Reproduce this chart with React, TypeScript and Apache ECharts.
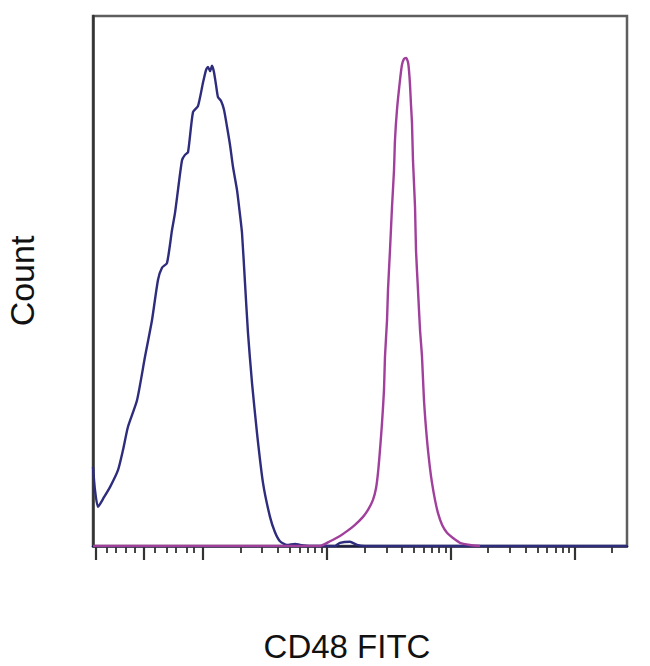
import React, { useEffect, useRef } from "react";
import * as echarts from "echarts";

// x in acquisition channels (0..1024), y in % of max count
const blueX = [0, 3.8, 9.6, 21.1, 32.6, 47.9, 57.5, 67.1, 84.4, 99.7, 113.1, 124.6, 132.3, 141.9, 151.5, 157.2, 163.0, 170.7, 176.4, 182.2, 191.8, 201.3, 210.9, 216.7, 220.5, 224.4, 228.2, 232.0, 235.9, 239.7, 245.4, 251.2, 257.0, 262.7, 268.5, 276.1, 281.9, 285.7, 291.5, 297.2, 304.9, 314.5, 326.0, 339.4, 349.0, 358.6, 372.0, 387.4, 396.9, 416.1, 464.1, 473.6, 492.8, 506.3, 521.6, 1024];
const blueY = [14.9, 10.6, 7.4, 9.2, 11.1, 14.3, 18.1, 22.5, 27.5, 35.7, 42.6, 50.2, 52.5, 53.4, 59.6, 62.8, 67.2, 72.8, 73.8, 74.3, 81.9, 83.0, 87.4, 89.8, 90.4, 89.6, 90.6, 89.4, 87.0, 84.7, 84.0, 82.3, 79.1, 75.7, 71.5, 67.2, 62.5, 59.1, 49.6, 40.2, 30.8, 21.3, 11.9, 5.5, 2.6, 0.9, 0.2, 0.4, 0.2, 0, 0, 0.6, 0.8, 0.2, 0, 0];

const pinkX = [0, 435.3, 454.5, 473.6, 487.1, 502.4, 517.8, 527.3, 536.9, 542.7, 546.5, 550.3, 554.2, 558.0, 559.9, 563.8, 565.7, 569.5, 573.4, 577.2, 579.1, 582.9, 588.7, 592.5, 596.4, 600.2, 604.0, 605.9, 607.9, 609.8, 611.7, 613.6, 617.5, 619.4, 623.2, 627.1, 630.9, 634.7, 640.5, 646.2, 650.1, 655.8, 661.6, 669.3, 678.8, 690.3, 703.8, 722.9, 742.1];
const pinkY = [0, 0, 0.9, 1.9, 2.8, 4.0, 5.5, 6.8, 8.7, 10.9, 13.8, 18.1, 23.2, 29.4, 35.7, 42.6, 48.3, 55.8, 64.0, 70.9, 76.6, 82.3, 87.9, 90.8, 91.9, 92.1, 91.3, 89.8, 87.0, 83.2, 79.8, 72.8, 64.0, 55.8, 48.3, 40.8, 35.7, 27.5, 20.0, 14.7, 11.9, 8.7, 6.2, 4.0, 2.5, 1.5, 0.6, 0.2, 0];

const majorTicks = [6, 98, 211, 449, 686, 924];
const minorTicks = [27, 44, 63, 81, 119, 142, 159, 180, 194,
  282.6, 324.4, 354.1, 377.2, 396.0, 411.9, 425.6, 437.8,
  520.6, 562.4, 592.1, 615.2, 634.0, 649.9, 663.6, 675.8,
  757.6, 799.4, 829.1, 852.2, 871.0, 886.9, 900.6, 912.8,
  995.6];

const xTitle = "CD48 FITC";
const yTitle = "Count";

export default function App() {
  const ref = useRef<HTMLDivElement>(null);
  useEffect(() => {
    if (!ref.current) return;
    const chart = echarts.init(ref.current, undefined, { renderer: "svg" });
    const pair = (xs: number[], ys: number[]) => xs.map((x, i) => [x, ys[i]]);
    const font = "'Liberation Sans', Arial, sans-serif";
    const baseX = {
      type: "value",
      min: 0,
      max: 1024,
      position: "bottom",
      splitLine: { show: false },
      axisLabel: { show: false },
    };
    chart.setOption({
      animation: false,
      backgroundColor: "#ffffff",
      grid: {
        left: 93,
        right: 23,
        top: 16,
        bottom: 120,
        show: true,
        borderColor: "#5e5e5e",
        borderWidth: 2.5,
        outerBoundsMode: "none",
        containLabel: false,
      },
      xAxis: [
        {
          ...baseX,
          name: xTitle,
          nameLocation: "middle",
          nameGap: 84,
          nameTextStyle: { fontSize: 33, color: "#111", fontFamily: font, padding: [0, 26, 0, 0] },
          axisLine: { show: true, lineStyle: { color: "#1c1c3c", width: 2.5 } },
          axisTick: {
            show: true,
            inside: false,
            length: 7,
            customValues: minorTicks,
            lineStyle: { color: "#333", width: 1.8 },
          },
        },
        {
          ...baseX,
          axisLine: { show: false },
          axisTick: {
            show: true,
            inside: false,
            length: 14,
            customValues: majorTicks,
            lineStyle: { color: "#333", width: 2.2 },
          },
        },
      ],
      yAxis: {
        type: "value",
        min: 0,
        max: 100,
        name: yTitle,
        nameLocation: "middle",
        nameGap: 54,
        nameRotate: 90,
        nameTextStyle: { fontSize: 34, color: "#111", fontFamily: font },
        axisLine: { show: true, lineStyle: { color: "#333", width: 2.5 } },
        axisTick: { show: false },
        axisLabel: { show: false },
        splitLine: { show: false },
      },
      series: [
        {
          type: "line",
          data: pair(blueX, blueY),
          showSymbol: false,
          smooth: 0.2,
          lineStyle: { color: "#2e2c7c", width: 2.4 },
          z: 2,
        },
        {
          type: "line",
          data: pair(pinkX, pinkY),
          showSymbol: false,
          smooth: 0.2,
          lineStyle: { color: "#a0409c", width: 2.4 },
          z: 3,
        },
      ],
    });
    return () => chart.dispose();
  }, []);
  return (
    <div
      ref={ref}
      style={{ position: "fixed", left: 0, top: 0, width: 650, height: 666, background: "#fff" }}
    />
  );
}
